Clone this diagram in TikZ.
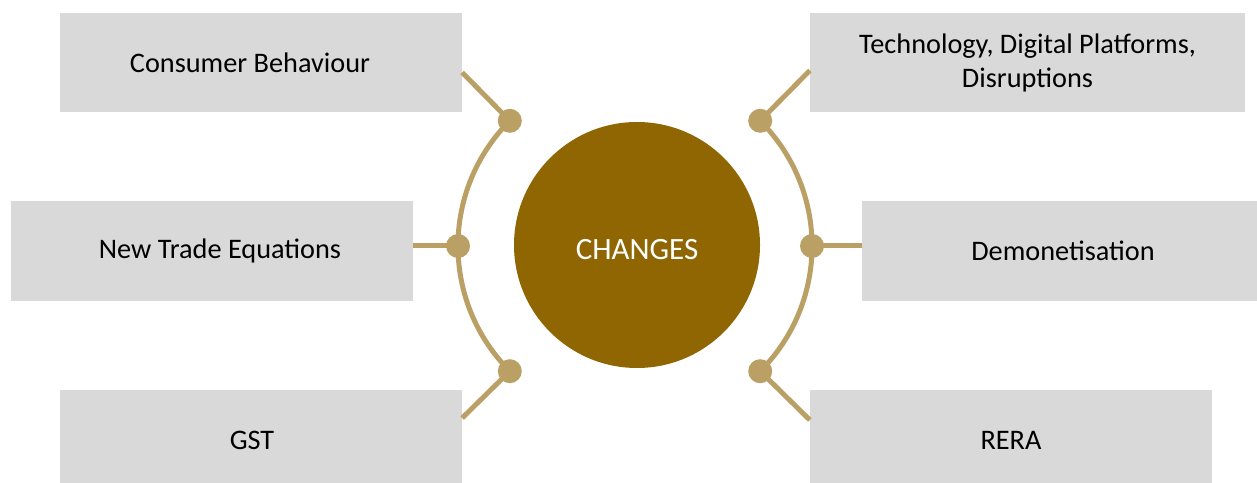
\documentclass[tikz,border=0pt]{standalone}
\usepackage{fontspec}
\setmainfont{Carlito}
\usetikzlibrary{calc}
\definecolor{boxgray}{HTML}{D9D9D9}
\definecolor{hub}{RGB}{143,102,2}
\definecolor{gold}{RGB}{187,160,102}
\begin{document}
\begin{tikzpicture}[x=1pt,y=1pt,
  box/.style={fill=boxgray,draw=none,rectangle,inner sep=0pt,
    font=\fontsize{28.3}{34}\selectfont,align=center,text=black},
  conn/.style={draw=gold,line width=5pt},
  dot/.style={circle,fill=gold,draw=none,minimum size=24pt,inner sep=0pt}]
\useasboundingbox (0,0) rectangle (1257,482);
\clip (0,0) rectangle (1257,482);
% hub
\node[circle,fill=hub,minimum size=246pt,inner sep=0pt,
  label={[text=white,font=\fontsize{31}{36}\selectfont,yshift=-5pt]center:CHANGES}] (hubc) at (637,237) {};
% dot coordinates
\coordinate (c) at (635,236);
\coordinate (pL0) at (458,236);
\coordinate (pLt) at (509.8,361.2);
\coordinate (pLb) at (509.8,110.8);
\coordinate (pR0) at (812,236);
\coordinate (pRt) at (760.2,361.2);
\coordinate (pRb) at (760.2,110.8);
% boxes
\node[box,minimum width=402pt,minimum height=99pt] (cb) at (261,419.5) {Consumer Behaviour\hspace*{22pt}};
\node[box,minimum width=402pt,minimum height=100pt] (nte) at (212,231) {\hspace*{16pt}New Trade Equations};
\node[box,minimum width=402pt,minimum height=100pt] (gst) at (261,42) {GST\hspace*{18pt}};
\node[box,minimum width=435pt,minimum height=99pt] (tech) at (1027.5,419.5) {Technology, Digital Platforms,\\Disruptions};
\node[box,minimum width=402pt,minimum height=100pt] (demo) at (1063,231) {Demonetisation};
\node[box,minimum width=402pt,minimum height=100pt] (rera) at (1011,42) {\raisebox{-3pt}{RERA}};
% arcs
\draw[conn] (pLt) arc[start angle=135,end angle=225,radius=177pt];
\draw[conn] (pRb) arc[start angle=-45,end angle=45,radius=177pt];
% connectors
\draw[conn] (pLt) -- ($(cb.east)+(0,-10)$);
\draw[conn] (pL0) -- (pL0 -| nte.east);
\draw[conn] (pLb) -- ($(gst.east)+(0,22)$);
\draw[conn] (pRt) -- ($(tech.west)+(0,-8)$);
\draw[conn] (pR0) -- (pR0 -| demo.west);
\draw[conn] (pRb) -- ($(rera.west)+(0,20)$);
% dots
\node[dot] (dL0) at (pL0) {};
\node[dot] (dLt) at (pLt) {};
\node[dot] (dLb) at (pLb) {};
\node[dot] (dR0) at (pR0) {};
\node[dot] (dRt) at (pRt) {};
\node[dot] (dRb) at (pRb) {};
\end{tikzpicture}
\end{document}
